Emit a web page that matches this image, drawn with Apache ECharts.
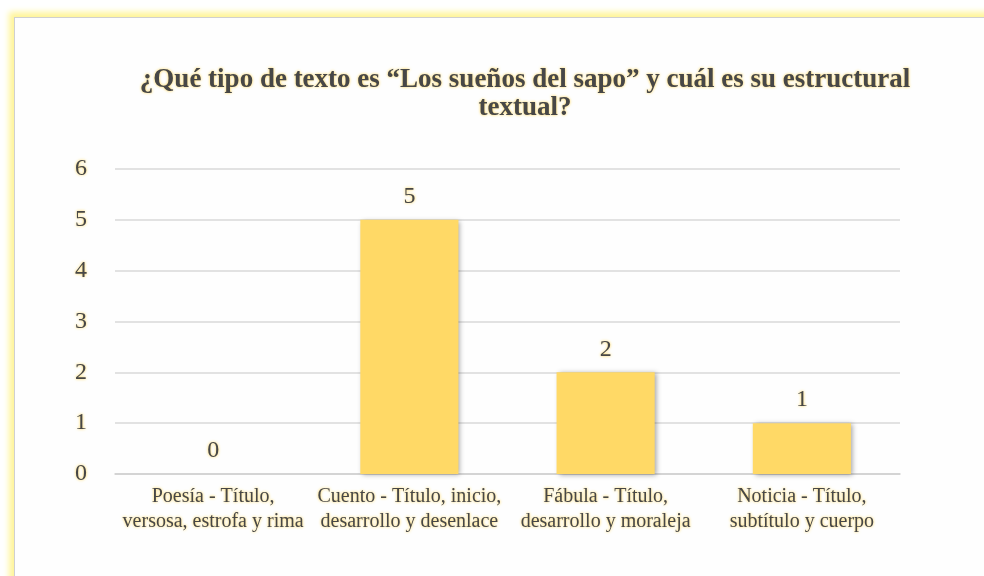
<!doctype html>
<html>
    <head>
        <meta charset="utf-8">
        <title>Tipo de texto</title>
        <style>
            html, body { margin: 0; padding: 0; background: #fff; }
            #frame {
                position: absolute; left: 14px; top: 17px; width: 1000px; height: 600px;
                border-left: 1px solid #d0d0d0; border-top: 1px solid #d0d0d0;
                box-shadow: -3px -3px 6px 2px #fff59a;
                background: #fefefe;
            }
            #main { position: absolute; left: 0; top: 0; width: 984px; height: 576px; }
        </style>
    </head>
    <body>
        <div id="frame"></div>
        <div id="main"></div>
        <script src="https://cdn.jsdelivr.net/npm/echarts@6/dist/echarts.min.js"></script>
        <script>
            var categories = [
                'Poesía - Título,\nversosa, estrofa y rima',
                'Cuento - Título, inicio,\ndesarrollo y desenlace',
                'Fábula - Título,\ndesarrollo y moraleja',
                'Noticia - Título,\nsubtítulo y cuerpo'
            ];
            var values = [0, 5, 2, 1];

            var glow = {
                color: '#474747',
                fontFamily: 'Liberation Serif',
                textShadowColor: 'rgba(255, 210, 70, 1)',
                textShadowBlur: 3
            };

            var myChart = echarts.init(document.getElementById('main'));

            myChart.setOption({
                backgroundColor: 'transparent',
                title: {
                    text: '¿Qué tipo de texto es “Los sueños del sapo” y cuál es su estructural\ntextual?',
                    left: 520,
                    top: 61,
                    textAlign: 'center',
                    textStyle: Object.assign({}, glow, {
                        fontSize: 27,
                        fontWeight: 'bold',
                        lineHeight: 28
                    })
                },
                grid: { left: 115, right: 84, top: 169, bottom: 102 },
                xAxis: {
                    type: 'category',
                    data: categories,
                    axisTick: { show: false },
                    axisLine: { lineStyle: { color: '#d0d0d0', width: 1.5 } },
                    axisLabel: Object.assign({}, glow, {
                        interval: 0,
                        fontSize: 20,
                        lineHeight: 25,
                        margin: 10
                    })
                },
                yAxis: {
                    type: 'value',
                    min: 0,
                    max: 6,
                    interval: 1,
                    axisLine: { show: false },
                    axisTick: { show: false },
                    splitLine: { lineStyle: { color: '#d9d9d9', width: 1.5 } },
                    axisLabel: Object.assign({}, glow, { fontSize: 24, margin: 28 })
                },
                series: [{
                    type: 'bar',
                    data: values,
                    barWidth: '50%',
                    itemStyle: {
                        color: '#ffd966',
                        shadowColor: 'rgba(0,0,0,0.35)',
                        shadowBlur: 5,
                        shadowOffsetX: 2,
                        shadowOffsetY: 1
                    },
                    label: Object.assign({}, glow, {
                        show: true,
                        position: 'top',
                        distance: 11,
                        fontSize: 24
                    })
                }]
            });
        </script>
    </body>
</html>
